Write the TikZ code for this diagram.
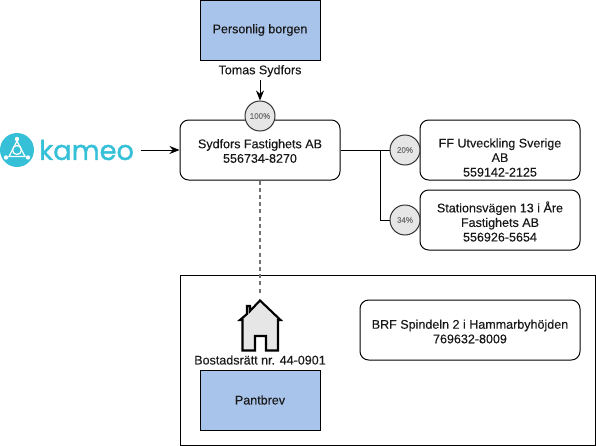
\documentclass[tikz,border=0pt]{standalone}
\usepackage{fontspec}
\setmainfont[FakeBold=0.25]{Liberation Sans}
\newfontfamily\logofont[FakeBold=1.2]{Poppins}
\usetikzlibrary{arrows.meta}
\definecolor{boxblue}{HTML}{A9C4EB}
\definecolor{pctgray}{HTML}{E6E6E6}
\definecolor{kameo}{HTML}{35C0D8}
\tikzset{
  every node/.style={font=\fontsize{9.4}{10.9}\selectfont,text=black!90,align=center,inner sep=0pt},
  line/.style={line width=0.75pt,draw=black},
  arrow/.style={line,-{Stealth[length=7.5pt,width=6pt]}},
  card/.style={line,rounded corners=6.5pt,fill=white,minimum width=120pt,minimum height=45pt},
  bluebox/.style={line,fill=boxblue,minimum width=90pt,minimum height=45pt},
  pct/.style={circle,line,draw=black!80,fill=pctgray,minimum size=22.5pt,font=\fontsize{6}{7}\selectfont,text=black!55},
  link/.style={line,dashed,dash pattern=on 3pt off 2.4pt,draw=black!55,line width=1.5pt},
  cardtext/.style={text width=118pt},
}
\begin{document}
\begin{tikzpicture}[x=0.75pt,y=-0.75pt]
\useasboundingbox (0,0) rectangle (596,446);
% big frame
\node[line,minimum width=311.25pt,minimum height=127.5pt] (frame) at (387.5,360) {};
% top
\node[bluebox] (borgen) at (260,30) {Personlig borgen};
\node (tomas) at (260,71) {Tomas Sydfors};
\node[card] (main) at (260,150) {};
\node (maintext) at (260,151) {Sydfors Fastighets AB\\556734-8270};
\node[pct] (p100) at (260,116) {100\%};
\coordinate (tomasb) at (260,80);
\draw[arrow] (tomasb) -- (p100.north);
% logo
\node[circle,fill=kameo,minimum size=25.5pt] (logo) at (17,150) {};
\draw[white,line width=0.9pt] (17,141) -- (9,156.5) -- (25,156.5) -- cycle;
\draw[white,line width=0.9pt] (17,150) circle (4.5);
\fill[white] (17,139) circle (2.2) (6,157.5) circle (2.2) (28,157.5) circle (2.2);
\node[font=\logofont\fontsize{20.4}{20.4}\selectfont,text=kameo,anchor=west] (kameotext) at (39,150) {kameo};
\coordinate (logoend) at (140.5,150);
\draw[arrow] (logoend) -- (main.west);
% right
\node[card] (ff) at (500,150) {};
\node (fftext) at (500,157.5) {FF Utveckling Sverige\\AB\\559142-2125};
\node[card] (st) at (500,220) {};
\node (sttext) at (500,221.5) {Stationsvägen 13 i Åre\\Fastighets AB\\556926-5654};
\coordinate (junction) at (380,150);
\draw[line] (main.east) -- (ff.west);
\draw[line] (junction) |- (st.west);
\node[pct] (p20) at (405,150) {20\%};
\node[pct] (p34) at (405,220) {34\%};
% bottom
\coordinate (housetop) at (260,294);
\draw[link] (main.south) -- (housetop);
\filldraw[fill=pctgray,draw=black,line width=1.6pt,line join=miter]
  (247,314) -- (247,306) -- (250,306) -- (250,311) -- (260,300.5) -- (280.5,320) -- (278,320) -- (278,350.5)
  -- (266,350.5) -- (266,336) -- (255,336) -- (255,350.5) -- (242.5,350.5) -- (242.5,320) -- (240,320) -- cycle;
\node (bost) at (260,360) {Bostadsrätt nr. 44-0901};
\node[bluebox] (pant) at (260,400) {Pantbrev};
\node[line,rounded corners=6.5pt,minimum width=165pt,minimum height=45pt] (brf) at (470,330) {};
\node (brftext) at (470,331.5) {BRF Spindeln 2 i Hammarbyhöjden\\769632-8009};
\end{tikzpicture}
\end{document}
